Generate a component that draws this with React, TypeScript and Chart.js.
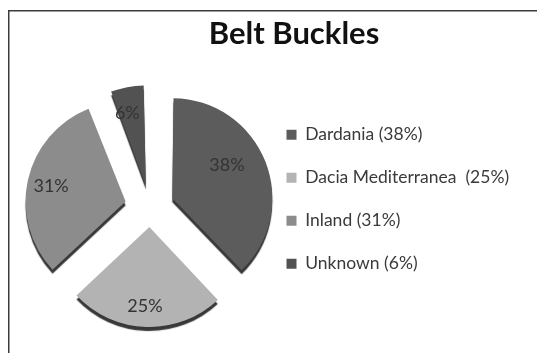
import React, { useEffect, useRef } from 'react';
import { Chart, registerables } from 'chart.js';

Chart.register(...registerables);

// ---- data ----
const categories = ['Dardania', 'Dacia Mediterranea', 'Inland', 'Unknown'];
const values = [38, 25, 31, 6];
const valueLabels = ['38%', '25%', '31%', '6%'];
const legendLabels = ['Dardania (38%)', 'Dacia Mediterranea  (25%)', 'Inland (31%)', 'Unknown (6%)'];
const titleText = 'Belt Buckles';

// ---- styles ----
const colors = ['#5c5c5c', '#b3b3b3', '#8c8c8c', '#525252'];
const sliceOffsets = [96, 80, 100, 88];
const labelRadius = [0.64, 0.79, 0.76, 0.75];
const labelAngleShiftDeg = [-9.7, 1.4, -1.2, -3.5];

const W = 588;
const H = 360;
const RADIUS = 100;
const LEGEND_W = 288;
const FONT = 'Lato';

const framePlugin = {
  id: 'frame',
  beforeDraw(chart: any) {
    const ctx = chart.ctx;
    ctx.save();
    ctx.fillStyle = '#ffffff';
    ctx.fillRect(0, 0, W, H);
    ctx.strokeStyle = '#3c3c3c';
    ctx.lineWidth = 1.5;
    ctx.strokeRect(8.75, 10.75, 570, 400);
    ctx.restore();
  },
};

// keep the visible radius equal for every exploded slice
const radiusFixPlugin = {
  id: 'radiusFix',
  afterDatasetsUpdate(chart: any) {
    chart.getDatasetMeta(0).data.forEach((arc: any) => {
      const off = (arc.options.offset || 0) / 4;
      const circ = arc.endAngle - arc.startAngle;
      const fix = 1 - Math.sin(Math.min(Math.PI, circ));
      arc.outerRadius = RADIUS - off * fix;
    });
  },
};

const legendWidthPlugin = {
  id: 'legendWidth',
  afterInit(chart: any) {
    const lg = chart.legend;
    if (!lg) return;
    const orig = lg.fit;
    lg.fit = function () {
      orig.call(this);
      this.width = LEGEND_W;
    };
  },
};

const depthAndLabelsPlugin = {
  id: 'depthLabels',
  beforeDatasetsDraw(chart: any) {
    const ctx = chart.ctx;
    ctx.save();
    ctx.shadowColor = 'rgba(45,45,45,0.95)';
    ctx.shadowOffsetX = 0;
    ctx.shadowOffsetY = 4;
    ctx.shadowBlur = 1;
  },
  afterDatasetsDraw(chart: any) {
    const ctx = chart.ctx;
    ctx.restore();
    ctx.save();
    ctx.font = `18px ${FONT}`;
    ctx.fillStyle = '#333333';
    ctx.textAlign = 'center';
    ctx.textBaseline = 'middle';
    chart.getDatasetMeta(0).data.forEach((arc: any, i: number) => {
      const { x, y, startAngle, endAngle } = arc.getProps(['x', 'y', 'startAngle', 'endAngle'], true);
      const mid = (startAngle + endAngle) / 2;
      const off = (arc.options.offset || 0) / 4;
      const vx = x + Math.cos(mid) * off;
      const vy = y + Math.sin(mid) * off;
      const a = mid + (labelAngleShiftDeg[i] * Math.PI) / 180;
      const d = labelRadius[i] * RADIUS;
      ctx.fillText(valueLabels[i], vx + Math.cos(a) * d, vy + Math.sin(a) * d);
    });
    ctx.restore();
  },
};

export default function App() {
  const ref = useRef<HTMLCanvasElement>(null);
  useEffect(() => {
    const chart = new Chart(ref.current as HTMLCanvasElement, {
      type: 'pie',
      data: {
        labels: legendLabels,
        datasets: [
          {
            label: categories.join(', '),
            data: values,
            backgroundColor: colors,
            borderWidth: 0,
            offset: sliceOffsets,
            clip: false,
          } as any,
        ],
      },
      options: {
        responsive: false,
        animation: false,
        devicePixelRatio: 1,
        radius: RADIUS,
        layout: { padding: { left: 39, right: 39, top: 0, bottom: 7.4 } },
        plugins: {
          title: {
            display: true,
            text: titleText,
            color: '#111111',
            font: { family: FONT, size: 31, weight: 'bold' },
            padding: { top: 15, bottom: 9.2 },
          },
          legend: {
            display: true,
            position: 'right',
            align: 'start',
            fullSize: false,
            title: { display: true, text: '', padding: { top: 24.8, bottom: 0 }, font: { size: 12 } },
            labels: {
              boxWidth: 10,
              boxHeight: 10,
              padding: 25.5,
              color: '#3a3a3a',
              font: { family: FONT, size: 17.5 },
            },
          },
          tooltip: { enabled: false },
        },
      } as any,
      plugins: [framePlugin, radiusFixPlugin, legendWidthPlugin, depthAndLabelsPlugin],
    });
    return () => chart.destroy();
  }, []);
  return (
    <div
      style={{
        position: 'fixed',
        left: 0,
        top: 0,
        width: 537,
        height: 353,
        overflow: 'hidden',
        background: '#ffffff',
      }}
    >
      <canvas ref={ref} width={W} height={H} style={{ display: 'block', width: W, height: H }} />
    </div>
  );
}
